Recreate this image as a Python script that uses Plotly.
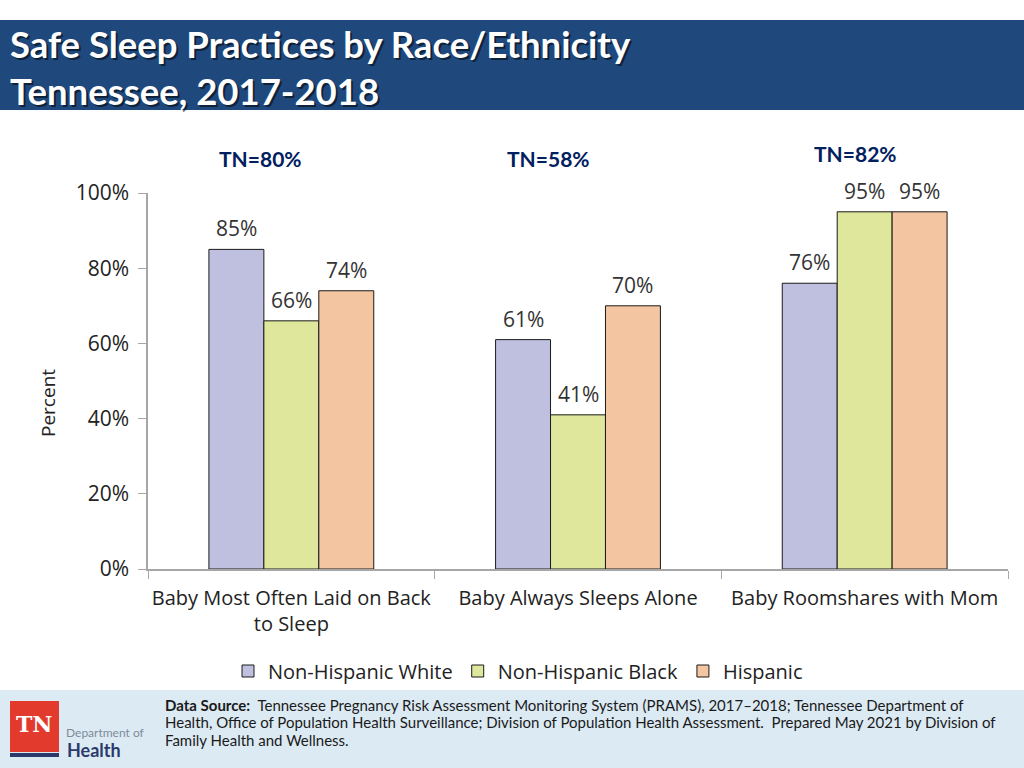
import plotly.graph_objects as go

categories = ["Baby Most Often Laid on Back<br>to Sleep", "Baby Always Sleeps Alone", "Baby Roomshares with Mom"]
series_names = ["Non-Hispanic White", "Non-Hispanic Black", "Hispanic"]
white_vals = [85, 61, 76]
black_vals = [66, 41, 95]
hisp_vals = [74, 70, 95]
tn_labels = ["TN=80%", "TN=58%", "TN=82%"]
y_ticks = [0, 20, 40, 60, 80, 100]
y_tick_text = ["0%", "20%", "40%", "60%", "80%", "100%"]
source_lines = [
    "<b>Data Source:</b>  Tennessee Pregnancy Risk Assessment Monitoring System (PRAMS), 2017\u20132018; Tennessee Department of",
    "Health, Office of Population Health Surveillance; Division of Population Health Assessment.  Prepared May 2021 by Division of",
    "Family Health and Wellness.",
]

colors = ["#BFC0DF", "#DFE79C", "#F4C5A1"]
series_vals = [white_vals, black_vals, hisp_vals]

W, H = 1024, 768
L, R, T, B = 148, 1008, 193, 569
BARGAP = 0.425
BAR_W = (1 - BARGAP) / len(series_names)


def px_x(px):
    return (px - L) / (R - L)


def px_y(py):
    return (B - py) / (B - T)


fig = go.Figure()
for k, (name, vals, col) in enumerate(zip(series_names, series_vals, colors)):
    fig.add_trace(go.Bar(
        x=categories, y=vals, name=name,
        marker=dict(color=col, line=dict(color="#1a1a1a", width=1)),
        hoverinfo="x+y+name",
    ))
    # data labels above each bar, placed in data coordinates
    for i, v in enumerate(vals):
        fig.add_annotation(text=f"{v}%", x=i + (k - 1) * BAR_W, y=v,
                           xref="x", yref="y", xanchor="center", yanchor="bottom",
                           yshift=5, showarrow=False,
                           font=dict(family="Open Sans", size=21, color="#333333"))

fig.update_layout(
    width=W, height=H,
    margin=dict(l=L, r=W - R, t=T, b=H - B, autoexpand=False),
    paper_bgcolor="white", plot_bgcolor="white",
    barmode="group", bargap=BARGAP, bargroupgap=0,
    font=dict(family="Open Sans", color="#222222"),
    showlegend=True,
    legend=dict(orientation="h", x=px_x(518), xanchor="center",
                y=px_y(671), yanchor="middle",
                font=dict(family="Open Sans", size=20, color="#222222"),
                itemwidth=30, traceorder="normal", bgcolor="rgba(0,0,0,0)"),
)

fig.update_yaxes(
    range=[0, 100], tickvals=y_ticks, ticktext=y_tick_text,
    showgrid=False, zeroline=False,
    showline=True, linecolor="#A6A6A6", linewidth=1.5,
    ticks="outside", ticklen=8, tickcolor="#A6A6A6",
    ticklabelstandoff=5,
    tickfont=dict(family="Open Sans", size=21, color="#222222"),
)
fig.update_xaxes(
    showgrid=False, showline=True, linecolor="#A6A6A6", linewidth=1.5,
    ticks="outside", tickson="boundaries", ticklen=8, tickcolor="#A6A6A6",
    tickangle=0, ticklabelstandoff=10,
    tickfont=dict(family="Open Sans", size=20, color="#222222"),
)

# y-axis title
fig.add_annotation(text="Percent", xref="paper", yref="paper",
                   x=px_x(48), y=px_y(403), textangle=-90,
                   xanchor="center", yanchor="middle", showarrow=False,
                   font=dict(family="Open Sans", size=19, color="#222222"))

# Title banner
fig.add_shape(type="rect", xref="paper", yref="paper",
              x0=px_x(0), x1=px_x(W), y0=px_y(110), y1=px_y(20),
              fillcolor="#1F497D", line=dict(width=0), layer="below")
for txt, yy in [("Safe Sleep Practices by Race/Ethnicity", 44), ("Tennessee, 2017-2018", 91)]:
    fig.add_annotation(text=f"<b>{txt}</b>", xref="paper", yref="paper",
                       x=px_x(8 + 2), y=px_y(yy + 2),
                       xanchor="left", yanchor="middle", showarrow=False,
                       font=dict(family="Lato", size=36.5, color="rgba(0,0,0,0.55)"))
    fig.add_annotation(text=f"<b>{txt}</b>", xref="paper", yref="paper",
                       x=px_x(8), y=px_y(yy),
                       xanchor="left", yanchor="middle", showarrow=False,
                       font=dict(family="Lato", size=36.5, color="white"))

# TN labels
tn_pos = [(260, 158), (548, 158), (855, 153)]
for lab, (px, py) in zip(tn_labels, tn_pos):
    fig.add_annotation(text=f"<b>{lab}</b>", xref="paper", yref="paper",
                       x=px_x(px), y=px_y(py),
                       xanchor="center", yanchor="middle", showarrow=False,
                       font=dict(family="Lato", size=21, color="#002060"))

# Footer
fig.add_shape(type="rect", xref="paper", yref="paper",
              x0=px_x(0), x1=px_x(W), y0=px_y(H), y1=px_y(690),
              fillcolor="#DCEAF4", line=dict(width=0), layer="below")
# Logo
fig.add_shape(type="rect", xref="paper", yref="paper",
              x0=px_x(10), x1=px_x(59), y0=px_y(752), y1=px_y(701),
              fillcolor="#E23B2E", line=dict(width=0))
fig.add_shape(type="rect", xref="paper", yref="paper",
              x0=px_x(10), x1=px_x(59), y0=px_y(757), y1=px_y(753),
              fillcolor="#2B3A6B", line=dict(width=0))
fig.add_annotation(text="<b>TN</b>", xref="paper", yref="paper",
                   x=px_x(34), y=px_y(724),
                   xanchor="center", yanchor="middle", showarrow=False,
                   font=dict(family="DejaVu Serif", size=22, color="white"))
fig.add_annotation(text="Department of", xref="paper", yref="paper",
                   x=px_x(64), y=px_y(732),
                   xanchor="left", yanchor="middle", showarrow=False,
                   font=dict(family="Lato", size=12, color="#7F8A99"))
fig.add_annotation(text="<b>Health</b>", xref="paper", yref="paper",
                   x=px_x(65), y=px_y(750),
                   xanchor="left", yanchor="middle", showarrow=False,
                   font=dict(family="Lato", size=18, color="#2B3A6B"))

for line, yy in zip(source_lines, [705, 722, 740]):
    fig.add_annotation(text=line, xref="paper", yref="paper",
                       x=px_x(163), y=px_y(yy),
                       xanchor="left", yanchor="middle", align="left", showarrow=False,
                       font=dict(family="Lato", size=15, color="#1a1a1a"))

fig.write_html("out.html", config={"displayModeBar": False},
               post_script="document.body.style.margin='0px';")
